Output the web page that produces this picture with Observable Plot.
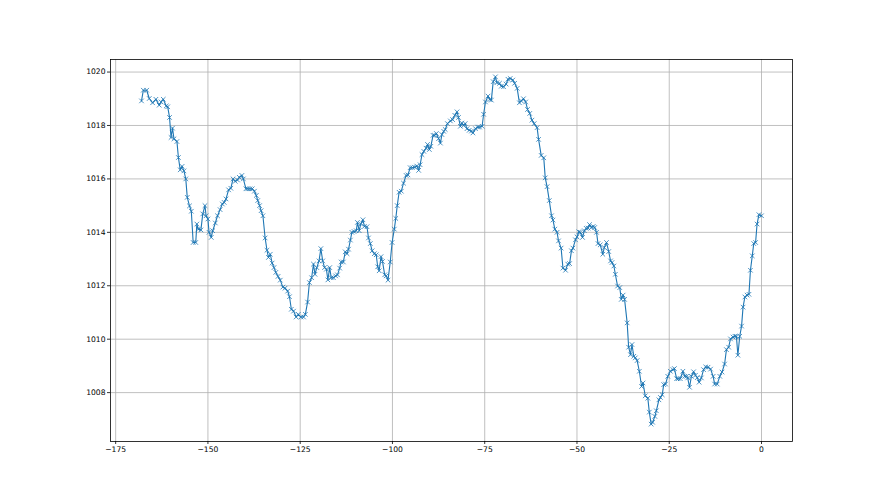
<!DOCTYPE html>
<html>
<head>
<meta charset="utf-8">
<script src="https://cdn.jsdelivr.net/npm/d3@7"></script>
<script src="https://cdn.jsdelivr.net/npm/@observablehq/plot@0.6"></script>
<style>
  html, body { margin: 0; padding: 0; background: #fff; }
  #chart { width: 880px; height: 495px; }
</style>
</head>
<body>
<div id="chart"></div>
<script>
const xValues = [
  -168.0, -167.5, -166.6, -165.9, -165.0, -164.1, -163.2, -162.7, -162.1, -161.3,
  -160.9, -160.4, -160.0, -159.6, -159.2, -158.4, -158.0, -157.5, -157.0, -156.5,
  -156.0, -155.6, -155.0, -154.5, -154.0, -153.3, -153.0, -152.6, -151.9, -151.4,
  -150.8, -150.5, -150.0, -149.7, -149.1, -148.7, -148.0, -147.4, -146.7, -146.1,
  -145.6, -145.1, -144.4, -143.8, -143.2, -142.6, -142.0, -141.5, -140.8, -140.4,
  -139.7, -139.2, -138.6, -138.0, -137.4, -136.9, -136.5, -136.0, -135.6, -135.1,
  -134.5, -134.0, -133.6, -133.1, -132.6, -132.1, -131.6, -131.0,
  -130.4, -129.7, -129.1, -128.4, -127.9, -127.4, -126.8, -126.1, -125.5, -124.8,
  -124.1, -123.6, -123.0, -122.5, -121.9, -121.4, -121.0, -120.5, -119.9, -119.4,
  -118.9, -118.4, -117.9, -117.5, -117.0, -116.6, -116.0, -115.4, -114.9, -114.3,
  -113.9, -113.3, -112.8, -112.3, -111.9, -111.4, -111.0, -110.4, -109.8, -109.5,
  -109.0, -108.6, -108.0, -107.6, -106.9, -106.5, -106.0, -105.5, -104.9, -104.4,
  -104.0, -103.6, -103.1, -102.7, -102.1, -101.7, -101.2, -100.6, -100.1, -99.5,
  -99.1, -98.7, -98.2, -97.6, -97.0,
  -96.3, -95.8, -95.2, -94.6, -94.0, -93.4, -92.9, -92.5, -92.0, -91.5,
  -90.9, -90.5, -90.0, -89.6, -89.0, -88.6, -88.1, -87.5, -87.0, -86.6,
  -86.1, -85.7, -85.1, -84.3, -83.7, -83.1, -82.5, -82.1, -81.6, -81.2,
  -80.7, -80.3, -79.8, -79.2, -78.6, -78.2, -77.5, -76.9, -76.4, -75.7,
  -75.3, -74.8,
  -74.1, -73.6, -73.2, -72.7, -72.1, -71.7, -71.0, -70.5, -69.9, -69.2,
  -68.7, -68.1, -67.4, -66.9, -66.2, -65.6, -65.1, -64.5, -63.9, -63.4,
  -62.8, -62.2, -61.6, -60.8, -60.4, -59.7, -59.0,
  -58.6, -58.1, -57.5, -56.9, -56.5, -56.0, -55.4, -55.0, -54.3, -53.8,
  -53.1, -52.5, -52.0, -51.5, -51.1, -50.4, -50.0, -49.5, -49.1, -48.5,
  -48.0, -47.5, -47.0, -46.6, -46.1, -45.6, -45.2, -44.7, -44.3, -43.7,
  -43.0, -42.6, -42.0, -41.4, -40.9, -40.5, -40.0, -39.6, -39.0, -38.4,
  -38.0, -37.5, -37.1, -36.4, -36.0, -35.5, -35.1, -34.6, -34.2, -33.7,
  -33.1, -32.5, -32.1, -31.5, -30.8, -30.4, -29.9, -29.5, -28.9, -28.5,
  -27.8, -27.4, -26.9, -26.5, -26.0, -25.4, -24.7, -24.0, -23.6, -23.0,
  -22.6, -22.0, -21.3, -20.8, -20.3, -20.0, -19.5, -19.0, -18.4, -17.9,
  -17.4, -16.9, -16.3, -15.7, -15.1, -14.5, -13.8, -13.1, -12.7, -12.0,
  -11.3, -10.7, -10.0, -9.5, -8.9, -8.4, -7.7, -7.2, -6.8, -6.4,
  -5.9, -5.4, -5.0, -4.5, -3.9, -3.4, -3.0, -2.5, -2.1, -1.6,
  -1.2, -0.7, 0.0
];
const pressure = [
  1018.92, 1019.32, 1019.32, 1019.01, 1018.85, 1018.98, 1018.76, 1018.88, 1018.98, 1018.73,
  1018.70, 1018.30, 1017.55, 1017.90, 1017.50, 1017.40, 1016.80, 1016.34, 1016.47, 1016.30,
  1016.00, 1015.31, 1014.99, 1014.79, 1013.62, 1013.62, 1014.31, 1014.12, 1014.09, 1014.69,
  1015.00, 1014.62, 1014.50, 1014.00, 1013.81, 1014.06, 1014.35, 1014.62, 1014.85, 1015.06,
  1015.12, 1015.25, 1015.59, 1015.65, 1016.00, 1015.91, 1015.96, 1016.06, 1016.13, 1016.00,
  1015.63, 1015.63, 1015.63, 1015.63, 1015.54, 1015.38, 1015.19, 1015.00, 1014.81, 1014.62,
  1013.79, 1013.33, 1013.06, 1013.18, 1012.85, 1012.68, 1012.50, 1012.35,
  1012.21, 1011.95, 1011.91, 1011.80, 1011.59, 1011.12, 1011.05, 1010.83, 1010.93, 1010.83,
  1010.83, 1010.93, 1011.39, 1012.12, 1012.30, 1012.81, 1012.43, 1012.68, 1012.93, 1013.39,
  1012.93, 1012.68, 1012.62, 1012.22, 1012.68, 1012.30, 1012.30, 1012.37, 1012.41, 1012.66,
  1012.89, 1012.89, 1013.27, 1013.20, 1013.37, 1013.71, 1014.00, 1014.03, 1014.06, 1014.37,
  1014.06, 1014.31, 1014.47, 1014.22, 1014.21, 1013.79, 1013.58, 1013.31, 1013.20, 1013.16,
  1012.71, 1012.56, 1013.09, 1012.91, 1012.41, 1012.37, 1012.21, 1012.89, 1013.62, 1014.12,
  1014.52, 1015.00, 1015.50, 1015.54, 1015.84,
  1016.13, 1016.15, 1016.42, 1016.42, 1016.44, 1016.48, 1016.32, 1016.53, 1016.91, 1017.03,
  1017.15, 1017.29, 1017.10, 1017.22, 1017.63, 1017.63, 1017.70, 1017.51, 1017.34, 1017.66,
  1017.78, 1017.85, 1018.07, 1018.17, 1018.22, 1018.38, 1018.51, 1018.30, 1017.97, 1018.09,
  1018.00, 1018.07, 1017.88, 1017.82, 1017.79, 1017.72, 1017.88, 1017.94, 1017.94, 1017.97,
  1018.42, 1018.88,
  1019.10, 1018.97, 1018.95, 1019.64, 1019.82, 1019.60, 1019.58, 1019.47, 1019.45, 1019.55,
  1019.73, 1019.76, 1019.70, 1019.58, 1019.39, 1018.85, 1018.92, 1019.00, 1018.88, 1018.60,
  1018.45, 1018.20, 1018.07, 1017.92, 1017.48, 1016.88, 1016.79,
  1016.04, 1015.71, 1015.19, 1014.62, 1014.46, 1014.12, 1014.00, 1013.68, 1013.41, 1012.66,
  1012.58, 1012.81, 1012.83, 1013.31, 1013.41, 1013.72, 1013.83, 1014.02, 1014.00, 1013.81,
  1014.06, 1014.15, 1014.16, 1014.29, 1014.18, 1014.22, 1014.18, 1014.00, 1013.58, 1013.53,
  1013.18, 1013.43, 1013.62, 1013.28, 1012.93, 1012.87, 1012.74, 1012.43, 1011.99, 1011.93,
  1011.49, 1011.65, 1011.49, 1010.61, 1009.70, 1009.42, 1009.80, 1009.36, 1009.30, 1009.20,
  1008.80, 1008.23, 1008.36, 1007.88, 1007.79, 1007.27, 1006.82, 1006.89, 1007.11, 1007.32,
  1007.73, 1007.82, 1007.92, 1008.30, 1008.32, 1008.61, 1008.80, 1008.86, 1008.90, 1008.52,
  1008.52, 1008.52, 1008.80, 1008.61, 1008.61, 1008.55, 1008.20, 1008.61, 1008.78, 1008.65,
  1008.56, 1008.39, 1008.55, 1008.86, 1008.96, 1008.95, 1008.88, 1008.61, 1008.32, 1008.32,
  1008.61, 1008.77, 1009.07, 1009.61, 1009.70, 1010.01, 1010.08, 1010.11, 1010.11, 1009.40,
  1010.11, 1010.49, 1011.20, 1011.58, 1011.65, 1011.68, 1012.58, 1013.12, 1013.58, 1013.62,
  1014.31, 1014.66, 1014.62
];
const xTicks = [-175, -150, -125, -100, -75, -50, -25, 0];
const yTicks = [1008, 1010, 1012, 1014, 1016, 1018, 1020];

const data = xValues.map((x, i) => ({x, y: pressure[i]}));

// matplotlib-style 5% margins around the data extent
const [xmin, xmax] = d3.extent(xValues);
const [ymin, ymax] = d3.extent(pressure);
const xpad = (xmax - xmin) * 0.05, ypad = (ymax - ymin) * 0.05;

const blue = "#1f77b4";
const chart = Plot.plot({
  width: 880,
  height: 495,
  marginLeft: 110,
  marginRight: 88,
  marginTop: 59,
  marginBottom: 54,
  style: {fontFamily: "'DejaVu Sans', sans-serif", fontSize: "7.6px", color: "#000", background: "#fff"},
  x: {domain: [xmin - xpad, xmax + xpad], ticks: xTicks, label: null, tickFormat: d => d < 0 ? "\u2212" + Math.abs(d) : String(d)},
  y: {domain: [ymin - ypad, ymax + ypad], ticks: yTicks, label: null, tickFormat: d => String(d)},
  marks: [
    Plot.gridX(xTicks, {stroke: "#b0b0b0", strokeOpacity: 1, strokeWidth: 0.8}),
    Plot.gridY(yTicks, {stroke: "#b0b0b0", strokeOpacity: 1, strokeWidth: 0.8}),
    Plot.axisX(xTicks, {tickSize: 3, tickPadding: 2, stroke: "#000", strokeWidth: 0.8, tickFormat: d => d < 0 ? "\u2212" + Math.abs(d) : String(d)}),
    Plot.axisY(yTicks, {tickSize: 3, tickPadding: 2, stroke: "#000", strokeWidth: 0.8, tickFormat: d => String(d)}),
    Plot.line(data, {x: "x", y: "y", stroke: blue, strokeWidth: 1.1}),
    Plot.dot(data, {x: "x", y: "y", symbol: "times", r: 2.2, stroke: blue, strokeWidth: 0.8}),
    Plot.frame({stroke: "#000", strokeWidth: 0.8})
  ]
});
document.getElementById("chart").appendChild(chart);
</script>
</body>
</html>
